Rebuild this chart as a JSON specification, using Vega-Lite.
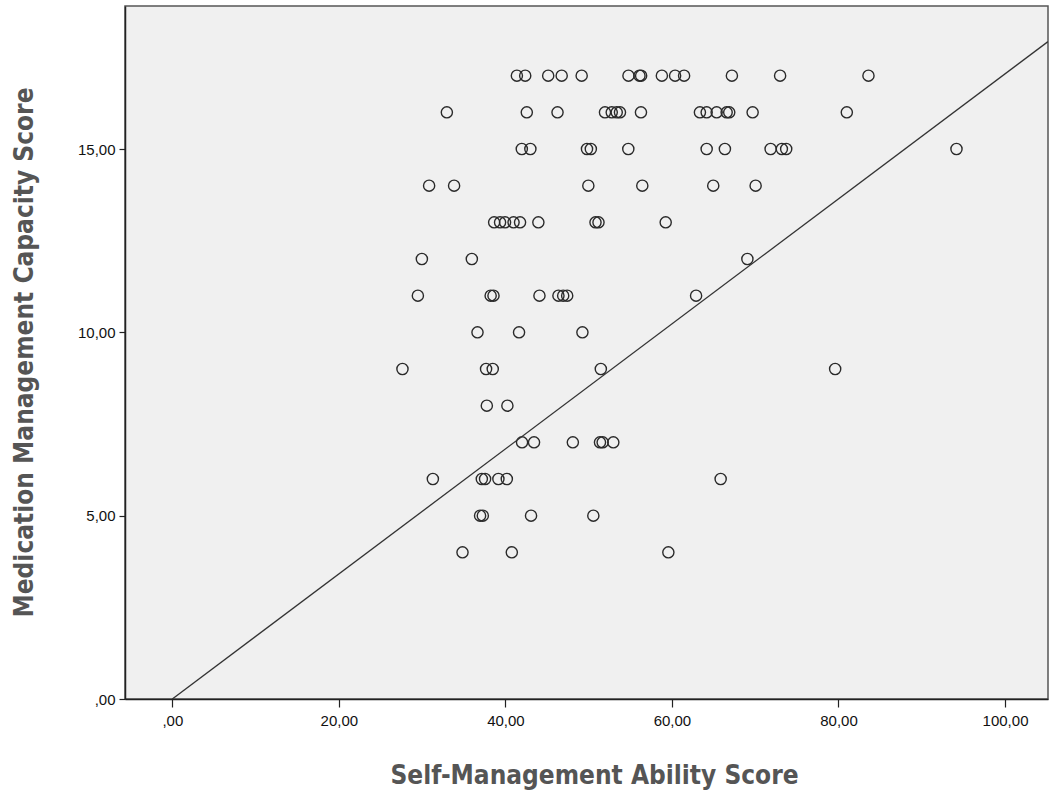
{
  "$schema": "https://vega.github.io/schema/vega-lite/v6.json",
  "width": 923,
  "height": 693,
  "autosize": "none",
  "padding": {"left": 125, "top": 6, "right": 7, "bottom": 95},
  "background": "white",
  "config": {
    "view": {"fill": "#f0f0f0", "stroke": "#555555", "strokeWidth": 1.5},
    "axis": {
      "grid": false,
      "domainColor": "#222222",
      "domainWidth": 1.5,
      "tickColor": "#222222",
      "tickWidth": 1.2,
      "labelFont": "Liberation Sans, Arial, sans-serif",
      "labelFontSize": 15,
      "labelColor": "#111111",
      "titleFont": "Liberation Sans Narrow, DejaVu Sans Condensed, sans-serif",
      "titleFontWeight": "bold",
      "titleColor": "#555555",
      "titleFontSize": 26
    }
  },
  "layer": [
    {
      "data": {"values": [
        {"x": 41.38, "y": 17}, {"x": 42.38, "y": 17}, {"x": 45.14, "y": 17}, {"x": 46.76, "y": 17}, {"x": 49.16, "y": 17},
        {"x": 54.78, "y": 17}, {"x": 56.1, "y": 17}, {"x": 56.3, "y": 17}, {"x": 58.79, "y": 17}, {"x": 60.38, "y": 17},
        {"x": 61.46, "y": 17}, {"x": 67.2, "y": 17}, {"x": 72.99, "y": 17}, {"x": 83.6, "y": 17},
        {"x": 32.97, "y": 16}, {"x": 42.57, "y": 16}, {"x": 46.26, "y": 16}, {"x": 51.96, "y": 16}, {"x": 52.77, "y": 16},
        {"x": 53.37, "y": 16}, {"x": 53.76, "y": 16}, {"x": 56.28, "y": 16}, {"x": 63.36, "y": 16}, {"x": 64.17, "y": 16},
        {"x": 65.37, "y": 16}, {"x": 66.57, "y": 16}, {"x": 66.88, "y": 16}, {"x": 69.69, "y": 16}, {"x": 81.0, "y": 16},
        {"x": 41.97, "y": 15}, {"x": 43.0, "y": 15}, {"x": 49.8, "y": 15}, {"x": 50.26, "y": 15}, {"x": 54.76, "y": 15},
        {"x": 64.17, "y": 15}, {"x": 66.36, "y": 15}, {"x": 71.85, "y": 15}, {"x": 73.2, "y": 15}, {"x": 73.72, "y": 15},
        {"x": 94.17, "y": 15},
        {"x": 30.84, "y": 14}, {"x": 33.84, "y": 14}, {"x": 49.96, "y": 14}, {"x": 56.44, "y": 14}, {"x": 64.96, "y": 14},
        {"x": 70.05, "y": 14},
        {"x": 38.65, "y": 13}, {"x": 39.36, "y": 13}, {"x": 39.96, "y": 13}, {"x": 40.98, "y": 13}, {"x": 41.76, "y": 13},
        {"x": 43.96, "y": 13}, {"x": 50.82, "y": 13}, {"x": 51.18, "y": 13}, {"x": 59.25, "y": 13},
        {"x": 29.97, "y": 12}, {"x": 35.97, "y": 12}, {"x": 69.06, "y": 12},
        {"x": 29.49, "y": 11}, {"x": 38.23, "y": 11}, {"x": 38.57, "y": 11}, {"x": 44.09, "y": 11}, {"x": 46.37, "y": 11},
        {"x": 46.94, "y": 11}, {"x": 47.42, "y": 11}, {"x": 62.9, "y": 11},
        {"x": 36.65, "y": 10}, {"x": 41.64, "y": 10}, {"x": 49.25, "y": 10},
        {"x": 27.64, "y": 9}, {"x": 37.68, "y": 9}, {"x": 38.48, "y": 9}, {"x": 51.46, "y": 9}, {"x": 79.6, "y": 9},
        {"x": 37.77, "y": 8}, {"x": 40.24, "y": 8},
        {"x": 42.0, "y": 7}, {"x": 43.44, "y": 7}, {"x": 48.1, "y": 7}, {"x": 51.36, "y": 7}, {"x": 51.68, "y": 7},
        {"x": 52.96, "y": 7},
        {"x": 31.29, "y": 6}, {"x": 37.17, "y": 6}, {"x": 37.56, "y": 6}, {"x": 39.16, "y": 6}, {"x": 40.17, "y": 6},
        {"x": 65.85, "y": 6},
        {"x": 36.96, "y": 5}, {"x": 37.29, "y": 5}, {"x": 43.08, "y": 5}, {"x": 50.56, "y": 5},
        {"x": 34.85, "y": 4}, {"x": 40.77, "y": 4}, {"x": 59.57, "y": 4}
      ]},
      "mark": {"type": "point", "shape": "circle", "filled": false, "stroke": "#2a2a2a", "strokeWidth": 1.4, "size": 125, "opacity": 1},
      "encoding": {
        "x": {
          "field": "x", "type": "quantitative",
          "scale": {"domain": [-5.68, 105.16], "nice": false, "zero": false},
          "axis": {
            "values": [0, 20, 40, 60, 80, 100],
            "labelExpr": "datum.value == 0 ? ',00' : replace(format(datum.value, '.2f'), '.', ',')",
            "tickSize": 8,
            "labelPadding": 6,
            "title": "Self-Management Ability Score",
            "titleX": 469,
            "titleY": 84,
            "titleBaseline": "alphabetic",
            "titleAnchor": "middle"
          }
        },
        "y": {
          "field": "y", "type": "quantitative",
          "scale": {"domain": [0, 18.9], "nice": false, "zero": false},
          "axis": {
            "values": [0, 5, 10, 15],
            "labelExpr": "datum.value == 0 ? ',00' : replace(format(datum.value, '.2f'), '.', ',')",
            "tickSize": 6,
            "labelPadding": 4,
            "title": "Medication Management Capacity Score",
            "titleX": -93,
            "titleY": 346,
            "titleAngle": -90,
            "titleBaseline": "alphabetic",
            "titleAnchor": "middle"
          }
        }
      }
    },
    {
      "data": {"values": [{"x": 0, "y": 0}, {"x": 105.16, "y": 17.93}]},
      "mark": {"type": "line", "color": "#333333", "strokeWidth": 1.3, "clip": true},
      "encoding": {
        "x": {"field": "x", "type": "quantitative"},
        "y": {"field": "y", "type": "quantitative"}
      }
    }
  ]
}
